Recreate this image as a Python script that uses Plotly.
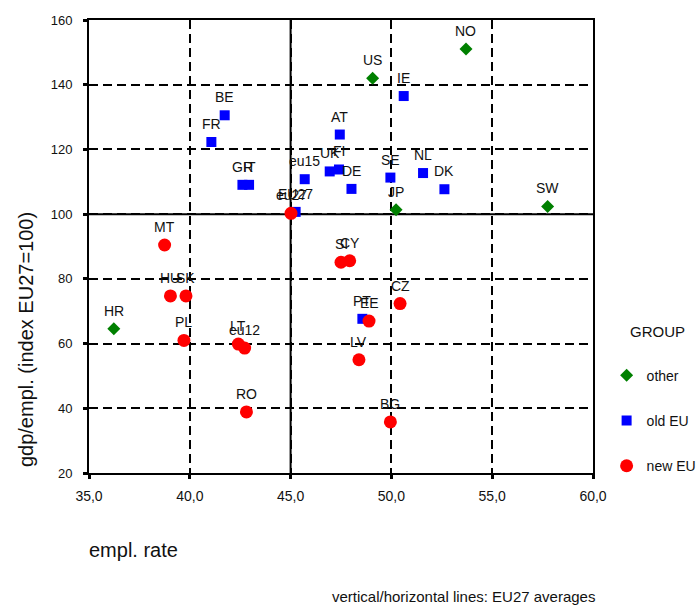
import plotly.graph_objects as go

# ---- data ----
other_labels = ["US", "NO", "JP", "SW", "HR"]
other_x = [49.07, 53.70, 50.23, 57.75, 36.23]
other_y = [141.96, 151.0, 101.35, 102.4, 64.57]

old_labels = ["BE", "FR", "GR", "IT", "eu15", "EU27", "AT", "UK", "FI", "DE",
              "IE", "SE", "NL", "DK", "PT"]
old_x = [41.73, 41.07, 42.61, 42.94, 45.70, 45.25, 47.44, 46.94, 47.40, 48.02,
         50.61, 49.95, 51.57, 52.63, 48.56]
old_y = [130.55, 122.3, 109.06, 109.06, 110.8, 100.7, 124.6, 113.2, 113.8, 107.8,
         136.5, 111.3, 112.7, 107.7, 67.65]

new_labels = ["eu27", "MT", "HU", "SK", "PL", "LT", "eu12", "RO", "SI", "CY",
              "CZ", "EE", "LV", "BG"]
new_x = [45.02, 38.75, 39.04, 39.81, 39.71, 42.41, 42.72, 42.81, 47.50, 47.93,
         50.43, 48.89, 48.39, 49.95]
new_y = [100.24, 90.47, 74.74, 74.74, 60.96, 59.85, 58.6, 38.88, 85.13, 85.6,
         72.37, 66.94, 55.0, 35.8]

avg_x = 45.0
avg_y = 100.0

x_ticks = [35, 40, 45, 50, 55, 60]
x_ticktext = ["35,0", "40,0", "45,0", "50,0", "55,0", "60,0"]
y_ticks = [20, 40, 60, 80, 100, 120, 140, 160]

FONT = "Liberation Sans, Arial, sans-serif"
TXT = "#111111"

PLOT_W, PLOT_H = 504, 454
ML, MT_ = 89.3, 19.5
FIG_W, FIG_H = 698, 605

fig = go.Figure()

groups = [
    ("other", other_x, other_y, other_labels, dict(symbol="diamond", size=10, color="#008000")),
    ("old EU", old_x, old_y, old_labels, dict(symbol="square", size=10, color="#0000FF")),
    ("new EU", new_x, new_y, new_labels, dict(symbol="circle", size=13, color="#FF0000")),
]

for i, (name, xs, ys, labels, marker) in enumerate(groups):
    fig.add_trace(go.Scatter(
        x=xs, y=ys, mode="markers", name=name, legendgroup=f"g{i}",
        marker=marker, text=labels, hoverinfo="text+x+y",
    ))
    for lx, ly, lt in zip(xs, ys, labels):
        fig.add_annotation(x=lx, y=ly, text=lt, showarrow=False, yshift=18,
                           xanchor="center", yanchor="middle",
                           font=dict(size=14, family=FONT, color=TXT))

# EU27 average lines
fig.add_shape(type="line", xref="x", yref="paper", x0=avg_x, x1=avg_x, y0=0, y1=1,
              line=dict(color="black", width=2), layer="below")
fig.add_shape(type="line", xref="paper", yref="y", x0=0, x1=1, y0=avg_y, y1=avg_y,
              line=dict(color="black", width=2), layer="below")

axis_common = dict(
    showline=True, linecolor="black", linewidth=2, mirror=True,
    ticks="outside", ticklen=4, tickwidth=3, tickcolor="black",
    showgrid=True, gridcolor="black", gridwidth=1.5, griddash="9px,5px",
    zeroline=False, automargin=False,
)

fig.update_xaxes(range=[35, 60], tickvals=x_ticks, ticktext=x_ticktext,
                 tickfont=dict(size=14, family=FONT, color=TXT),
                 ticklabelstandoff=5, **axis_common)
fig.update_yaxes(range=[20, 160], tickvals=y_ticks,
                 tickfont=dict(size=13, family=FONT, color=TXT),
                 ticklabelstandoff=8, **axis_common)

fig.add_annotation(text="gdp/empl. (index EU27=100)", xref="paper", yref="paper",
                   x=-0.1236, y=0.295, textangle=-90, showarrow=False,
                   xanchor="center", yanchor="middle",
                   font=dict(size=20, family=FONT, color=TXT))
fig.add_annotation(text="empl. rate", xref="paper", yref="paper",
                   x=-0.003, y=-0.171, showarrow=False,
                   xanchor="left", yanchor="middle",
                   font=dict(size=20, family=FONT, color=TXT))
fig.add_annotation(text="vertical/horizontal lines: EU27 averages", xref="paper", yref="paper",
                   x=0.743, y=-0.272, showarrow=False,
                   xanchor="center", yanchor="middle",
                   font=dict(size=15, family=FONT, color=TXT))
fig.add_annotation(text="GROUP", xref="paper", yref="paper",
                   x=(658 - 89.3) / PLOT_W, y=(473.5 - 332) / PLOT_H, showarrow=False,
                   xanchor="center", yanchor="middle",
                   font=dict(size=15, family=FONT, color=TXT))

fig.update_layout(
    width=FIG_W, height=FIG_H,
    margin=dict(l=ML, r=FIG_W - ML - PLOT_W, t=MT_, b=FIG_H - MT_ - PLOT_H, autoexpand=False),
    paper_bgcolor="white", plot_bgcolor="white",
    font=dict(family=FONT, color=TXT),
    showlegend=True,
    legend=dict(
        x=1.027, y=(473.5 - 360) / PLOT_H, xanchor="left", yanchor="top",
        font=dict(size=14, family=FONT, color=TXT),
        tracegroupgap=24, bgcolor="rgba(0,0,0,0)",
    ),
)

fig.write_html(
    "out.html",
    config={"displayModeBar": False},
    post_script="document.body.style.margin='0';document.body.style.overflow='hidden';",
)
